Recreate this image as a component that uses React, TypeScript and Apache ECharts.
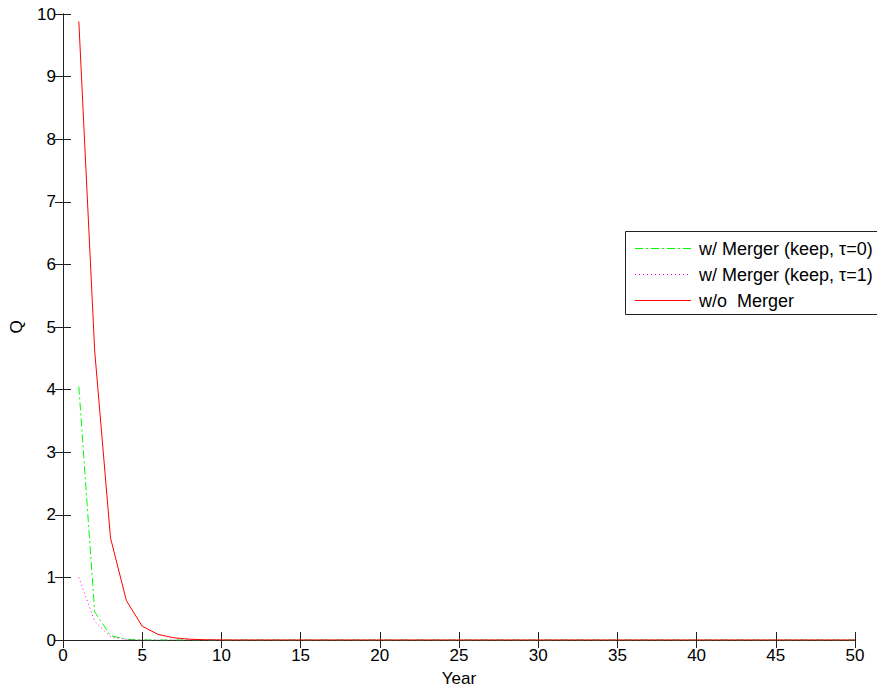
import React, { useEffect, useRef } from 'react';
import * as echarts from 'echarts';

const years = [1, 2, 3, 4, 5, 6, 7, 8, 9, 10, 11, 12, 13, 14, 15, 16, 17, 18, 19, 20, 21, 22, 23, 24, 25, 26, 27, 28, 29, 30, 31, 32, 33, 34, 35, 36, 37, 38, 39, 40, 41, 42, 43, 44, 45, 46, 47, 48, 49, 50];
const mergerTau0 = [4.05, 0.45, 0.07, 0.01, 0.002, 0, 0, 0, 0, 0, 0, 0, 0, 0, 0, 0, 0, 0, 0, 0, 0, 0, 0, 0, 0, 0, 0, 0, 0, 0, 0, 0, 0, 0, 0, 0, 0, 0, 0, 0, 0, 0, 0, 0, 0, 0, 0, 0, 0, 0];
const mergerTau1 = [1.0, 0.3, 0.05, 0.008, 0.001, 0, 0, 0, 0, 0, 0, 0, 0, 0, 0, 0, 0, 0, 0, 0, 0, 0, 0, 0, 0, 0, 0, 0, 0, 0, 0, 0, 0, 0, 0, 0, 0, 0, 0, 0, 0, 0, 0, 0, 0, 0, 0, 0, 0, 0];
const noMerger = [9.88, 4.62, 1.63, 0.63, 0.22, 0.09, 0.035, 0.012, 0.004, 0.001, 0, 0, 0, 0, 0, 0, 0, 0, 0, 0, 0, 0, 0, 0, 0, 0, 0, 0, 0, 0, 0, 0, 0, 0, 0, 0, 0, 0, 0, 0, 0, 0, 0, 0, 0, 0, 0, 0, 0, 0];
const seriesNames = ['w/ Merger (keep, τ=0)', 'w/ Merger (keep, τ=1)', 'w/o  Merger'];

const FONT = 'Liberation Sans, Arial, sans-serif';
const AXIS_COLOR = '#222';

export default function App() {
  const ref = useRef<HTMLDivElement>(null);
  useEffect(() => {
    if (!ref.current) return;
    const chart = echarts.init(ref.current, null, { renderer: 'svg' });
    const pairs = (vals: number[]) => years.map((y, i) => [y, vals[i]]);
    const tickCommon = { show: true, inside: true, length: 8, lineStyle: { color: AXIS_COLOR, width: 1 } };
    const lineCommon = { show: true, lineStyle: { color: AXIS_COLOR, width: 1 } };
    const labelCommon = { fontFamily: FONT, fontSize: 17, color: '#000' };
    const rows = [248, 274, 300];
    const colors = ['#00ff00', '#ff00ff', '#ff0000'];
    const dashes: (number[] | null)[] = [[8, 3, 2, 3], [1, 3], null];
    const legendGraphics: any[] = [
      {
        type: 'rect',
        shape: { x: 625.5, y: 231.5, width: 270, height: 83 },
        style: { fill: '#fff', stroke: AXIS_COLOR, lineWidth: 1 },
        z: 10,
      },
    ];
    rows.forEach((y, i) => {
      legendGraphics.push({
        type: 'line',
        shape: { x1: 635, y1: y + 0.5, x2: 691, y2: y + 0.5 },
        style: { stroke: colors[i], lineWidth: 1, lineDash: dashes[i] || undefined },
        z: 11,
      });
      legendGraphics.push({
        type: 'text',
        x: 699,
        y: y + 1,
        style: { text: seriesNames[i], font: `18px ${FONT}`, fill: '#000', verticalAlign: 'middle' },
        z: 11,
      });
    });
    chart.setOption({
      animation: false,
      backgroundColor: '#fff',
      grid: { left: 62, right: 22, top: 14, bottom: 53, containLabel: false },
      xAxis: [
        {
          type: 'value', min: 0, max: 50, interval: 5,
          name: 'Year', nameLocation: 'middle', nameGap: 30,
          nameTextStyle: { fontFamily: FONT, fontSize: 17, color: '#000' },
          axisLine: lineCommon, axisTick: tickCommon,
          axisLabel: { ...labelCommon, margin: 7 },
          splitLine: { show: false },
        },
        {
          type: 'value', min: 0, max: 50, interval: 5, position: 'top',
          axisLine: lineCommon, axisTick: tickCommon, axisLabel: { show: false }, splitLine: { show: false },
        },
      ],
      yAxis: [
        {
          type: 'value', min: 0, max: 10, interval: 1,
          name: 'Q', nameLocation: 'middle', nameGap: 38,
          nameTextStyle: { fontFamily: FONT, fontSize: 17, color: '#000' },
          axisLine: lineCommon, axisTick: tickCommon,
          axisLabel: { ...labelCommon, margin: 7 },
          splitLine: { show: false },
        },
        {
          type: 'value', min: 0, max: 10, interval: 1, position: 'right',
          axisLine: lineCommon, axisTick: tickCommon, axisLabel: { show: false }, splitLine: { show: false },
        },
      ],
      series: [
        {
          name: seriesNames[0], type: 'line', data: pairs(mergerTau0), showSymbol: false, symbol: 'none',
          lineStyle: { color: colors[0], width: 1, type: [8, 3, 2, 3] }, z: 2,
        },
        {
          name: seriesNames[1], type: 'line', data: pairs(mergerTau1), showSymbol: false, symbol: 'none',
          lineStyle: { color: colors[1], width: 1, type: [1, 3] }, z: 3,
        },
        {
          name: seriesNames[2], type: 'line', data: pairs(noMerger), showSymbol: false, symbol: 'none',
          lineStyle: { color: colors[2], width: 1, type: 'solid' }, z: 4,
        },
      ],
      graphic: legendGraphics,
    });
    return () => chart.dispose();
  }, []);
  return <div ref={ref} style={{ position: 'absolute', left: 0, top: 0, width: 877, height: 693 }} />;
}
